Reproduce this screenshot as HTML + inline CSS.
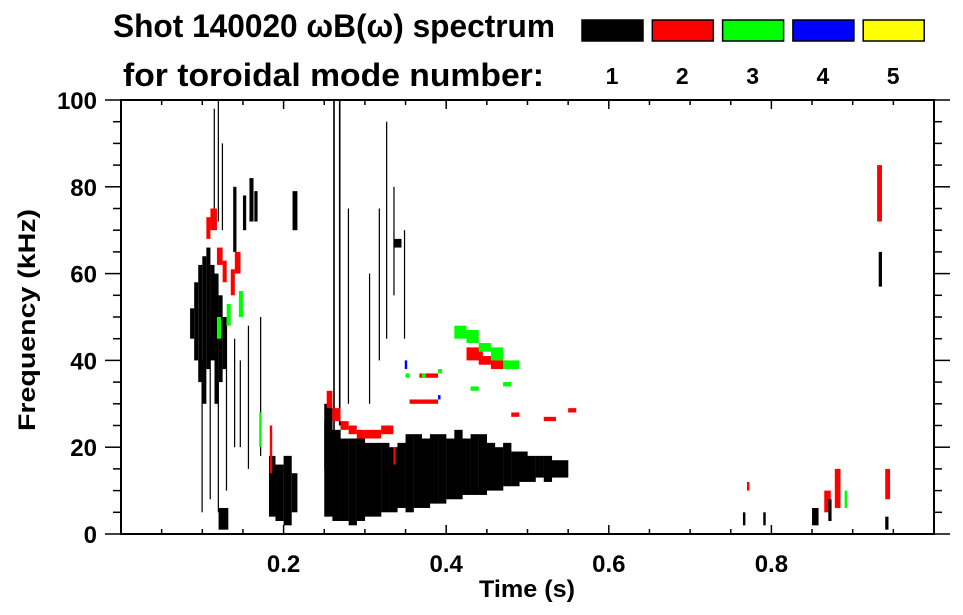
<!DOCTYPE html>
<html><head><meta charset="utf-8"><style>
html,body{margin:0;padding:0;background:#fff;}
svg{display:block;font-family:"Liberation Sans",sans-serif;font-weight:bold;}
</style></head><body>
<svg id="chart" width="963" height="615" viewBox="0 0 963 615" xmlns="http://www.w3.org/2000/svg">
<text x="113" y="37" font-size="32" textLength="442" lengthAdjust="spacingAndGlyphs">Shot 140020 ωB(ω) spectrum</text>
<text x="123" y="86" font-size="32" textLength="421" lengthAdjust="spacingAndGlyphs">for toroidal mode number:</text>
<g id="legend"></g>
<g id="marks"></g>
<g id="axes"></g>
<text x="527" y="597" font-size="24" text-anchor="middle" textLength="96" lengthAdjust="spacingAndGlyphs">Time (s)</text>
<text transform="translate(35,320) rotate(-90)" font-size="24" text-anchor="middle" textLength="222" lengthAdjust="spacingAndGlyphs">Frequency (kHz)</text>
</svg>
<script>
const modeColors = ["#000000","#ff0000","#00ff00","#0000ff","#ffff00"];
const modeLabels = ["1","2","3","4","5"];
const xTickLabels = ["0.2","0.4","0.6","0.8"];
const xTickValues = [0.2,0.4,0.6,0.8];
const yTickLabels = ["0","20","40","60","80","100"];
const yTickValues = [0,20,40,60,80,100];
// main black band columns (time s, low/high kHz)
const bandT = [.25,.26,.27,.28,.29,.30,.31,.32,.33,.34,.35,.36,.37,.38,.39,.40,.41,.42,.43,.44,.45,.46,.47,.48,.49,.50,.51,.52,.53,.54];
const bandLo = [4,3,3,2,3,4,4,5,5,6,5,6,6,7,7,8,8,9,9,9,10,10,11,11,12,12,13,12,13,13];
const bandHi = [26,24,22,22,22,21,21,21,20,21,23,23,22,23,23,22,24,22,23,23,21,20,21,19,19,18,18,18,17,17];
// other features: start time, end time, low freq, high freq, mode (1-5)
const segT0 = [.085,.09,.095,.10,.105,.11,.115,.12,.125, .099,.109,.119,.129,.139,.146,.156,.171, .114,.119,.124, .138,.150,.158,.164,.211, .12, .182,.19,.20,.21, .25,.261,.268,.279,.305,.317,.336,.326, .335,.348,
 .105,.11,.118,.125,.135,.14, .118,.13,.145,
 .253,.26,.27,.28,.29,.30,.32,.183,.355,.367,.425,.44,.455,.335,.48,.52,.55,
 .41,.425,.44,.455,.47,.35,.37,.39,.43,.47,.17,
 .349,.39,
 .93,.932,.79,.85,.865,.878,.94,.77,.89,.94,.87,.765];
const segT1 = [.09,.095,.10,.105,.11,.115,.12,.125,.13, .1005,.1105,.1205,.1305,.1405,.1475,.1575,.1725, .1155,.1205,.1255, .142,.154,.163,.168,.217, .132, .19,.20,.21,.217, .26,.263,.270,.2805,.3065,.3185,.345,.3275, .3365,.3495,
 .11,.118,.125,.13,.14,.147, .123,.135,.15,
 .26,.27,.28,.29,.30,.32,.335,.186,.39,.39,.445,.46,.475,.338,.49,.535,.56,
 .425,.44,.455,.47,.49,.355,.375,.395,.44,.48,.173,
 .352,.393,
 .936,.936,.793,.858,.873,.885,.946,.773,.893,.944,.874,.768];
const segF0 = [45,40,35,30,38,40,30,35,38, 5,8,5,10,20,20,15,18, 75,72,70, 65,70,72,72,70, 1, 4,3,2,5, 15,20,25,30,30,40,66,45, 55,45,
 68,70,62,58,55,60, 45,48,50,
 29,26,24,23,22,22,23,14,30,36,40,39,38,16,27,26,28,
 45,44,42,40,38,36,36,37,33,34,20,
 38,31,
 72,57,2,2,5,6,8,10,6,1,3,2];
const segF1 = [52,58,62,64,66,62,60,55,50, 40,45,35,48,45,40,48,50, 98,100,90, 80,78,82,79,79, 6, 18,16,18,14, 30,100,100,75,60,75,68,95, 80,70,
 73,75,66,63,61,65, 50,53,56,
 33,29,26,25,24,24,25,25,31,37,43,41,40,20,28,27,29,
 48,47,44,43,40,37,37,38,34,35,28,
 40,32,
 85,65,5,6,10,15,15,12,10,4,8,5];
const segMode = [1,1,1,1,1,1,1,1,1, 1,1,1,1,1,1,1,1, 1,1,1, 1,1,1,1,1, 1, 1,1,1,1, 1,1,1,1,1,1,1,1, 1,1,
 2,2,2,2,2,2, 3,3,3,
 2,2,2,2,2,2,2,2,2,2,2,2,2,2,2,2,2,
 3,3,3,3,3,3,3,3,3,3,3,
 4,4,
 2,1,1,1,2,2,2,2,3,1,1,1];

const NS="http://www.w3.org/2000/svg";
const L=121,R=934,T=100,B=534;
const xs=t=>L+t*(R-L);
const ys=f=>B-f/100*(B-T);
const marks=document.getElementById('marks');
const axes=document.getElementById('axes');
const legend=document.getElementById('legend');
function mk(tag,attrs,parent){const e=document.createElementNS(NS,tag);for(const k in attrs)e.setAttribute(k,attrs[k]);parent.appendChild(e);return e;}

bandT.forEach((t,i)=>{
  const r=mk('rect',{x:xs(t),y:ys(bandHi[i]),width:xs(t+0.0102)-xs(t),height:ys(bandLo[i])-ys(bandHi[i]),fill:modeColors[0]},marks);
  
  
});
segT0.forEach((t,i)=>{
  const r=mk('rect',{x:xs(t),y:ys(segF1[i]),width:Math.max(1,xs(segT1[i])-xs(t)),height:ys(segF0[i])-ys(segF1[i]),fill:modeColors[segMode[i]-1]},marks);
  
  
});

const fr=mk('rect',{x:L,y:T,width:R-L,height:B-T,fill:'none',stroke:'#000','stroke-width':2},axes);


for(let k=1;k<20;k++){
  const x=xs(k*0.05),len=(k%4===0)?9:5;
  mk('line',{x1:x,x2:x,y1:B,y2:B-len,stroke:'#000','stroke-width':1.5},axes);
  mk('line',{x1:x,x2:x,y1:T,y2:T+len,stroke:'#000','stroke-width':1.5},axes);
}
xTickValues.forEach((v,i)=>{
  const t=mk('text',{x:xs(v),y:572,'font-size':24,'text-anchor':'middle'},axes);
  t.textContent=xTickLabels[i];
  
  
});
for(let k=0;k<=20;k++){
  const y=ys(k*5),len=(k%4===0)?16:8;
  mk('line',{x1:L-len,x2:L,y1:y,y2:y,stroke:'#000','stroke-width':1.5},axes);
  mk('line',{x1:R,x2:R+len,y1:y,y2:y,stroke:'#000','stroke-width':1.5},axes);
}
yTickValues.forEach((v,i)=>{
  const t=mk('text',{x:97,y:ys(v)+9,'font-size':24,'text-anchor':'end'},axes);
  t.textContent=yTickLabels[i];
  
  
});
modeColors.forEach((c,i)=>{
  const x=582+i*70.3;
  const r=mk('rect',{x:x,y:20,width:61,height:21,fill:c,stroke:'#000','stroke-width':1.5},legend);
  
  
  const t=mk('text',{x:x+30,y:84,'font-size':23,'text-anchor':'middle'},legend);
  t.textContent=modeLabels[i];
  
  
});
</script>
</body></html>
